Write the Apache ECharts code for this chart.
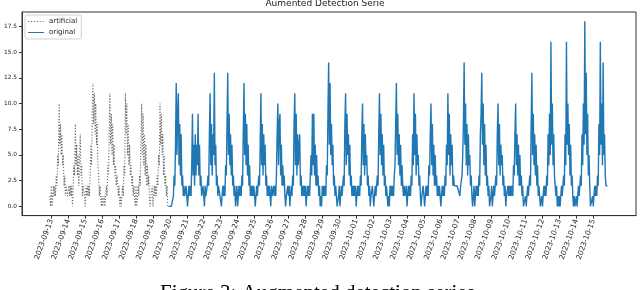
<!DOCTYPE html>
<html>
<head>
<meta charset="utf-8">
<script src="https://cdn.jsdelivr.net/npm/echarts@6/dist/echarts.min.js"></script>
<style>
html,body{margin:0;padding:0;background:#fff;}
#chart{width:640px;height:290px;}
</style>
</head>
<body>
<div id="chart"></div>
<script>
// ---- data (hourly counts per local day; series start times below) ----
const artificialStart = '2023-09-12T22:00:00Z';
const originalStart = '2023-09-19T22:00:00Z';

const art_0913 = [1,0,2,0,1,2,1,2,1,3,2,5,4,10,6,8,5,7,4,5,2,3,1,2];
const art_0914 = [2,1,1,2,1,2,1,2,0,2,4,3,8,4,6,3,5,2,5,7,3,4,1,2];
const art_0915 = [2,1,0,2,1,2,1,2,1,3,6,4,9,12,8,11,7,10,6,8,4,3,1,2];
const art_0916 = [1,0,1,0,0,1,0,1,2,1,4,3,7,11,6,9,5,8,4,6,3,4,2,3];
const art_0917 = [2,1,2,0,1,0,1,2,1,4,3,11,7,10,5,8,4,6,3,4,2,3,1,2];
const art_0918 = [1,0,2,0,1,2,1,3,2,6,10,5,9,4,7,3,6,2,4,2,3,1,0,1];
const art_0919 = [1,2,0,1,2,1,2,1,3,2,5,4,10,6,9,5,7,3,5,2,3,1,2,0];

const org_0920 = [0,0,0,0,0,0,0,1,3,2,6,12,5,9,11,4,8,3,7,2,3,1,2,1];
const org_0921 = [1,2,1,0,1,2,1,2,1,4,9,3,6,2,7,3,6,4,9,3,6,2,3,1];
const org_0922 = [1,2,1,0,2,1,1,2,3,2,7,11,4,8,3,7,5,13,4,6,2,3,1,2];
const org_0923 = [2,1,1,0,1,2,1,2,1,4,3,8,13,5,9,4,7,3,6,2,3,1,2,0];
const org_0924 = [1,2,0,1,2,1,2,1,3,2,7,12,5,9,4,8,3,6,2,4,1,2,1,2];
const org_0925 = [1,2,1,0,1,2,1,2,3,2,6,11,4,8,3,7,4,6,2,3,1,2,1,2];
const org_0926 = [1,0,2,1,1,2,1,2,1,3,7,10,4,8,9,3,6,2,4,2,3,1,0,1];
const org_0927 = [1,2,1,2,0,1,2,1,3,2,8,11,4,9,3,7,4,6,7,2,3,1,2,1];
const org_0928 = [2,1,2,0,1,2,1,2,1,3,5,3,9,4,9,3,6,2,5,2,3,1,2,0];
const org_0929 = [1,0,2,1,2,1,2,1,4,3,9,14,6,12,5,8,4,6,2,3,1,2,1,0];
const org_0930 = [0,1,2,0,1,2,1,2,3,2,8,11,4,9,5,7,3,6,2,3,1,2,1,2];
const org_1001 = [1,2,0,1,2,1,2,1,3,2,7,10,4,8,3,7,4,5,2,3,1,2,0,1];
const org_1002 = [1,2,1,0,1,2,1,2,3,2,7,11,5,9,4,7,3,6,2,3,1,2,1,0];
const org_1003 = [1,0,2,1,2,1,2,1,3,4,8,12,5,9,4,7,3,6,2,4,2,1,2,1];
const org_1004 = [1,2,0,1,2,1,2,1,3,2,7,4,11,5,9,3,7,4,5,2,3,1,0,1];
const org_1005 = [1,2,1,0,1,2,1,2,1,4,3,7,10,4,8,3,6,2,5,2,3,1,2,1];
const org_1006 = [2,1,0,1,2,1,2,1,3,2,6,4,11,5,9,3,7,4,6,2,3,2,2,2];
const org_1007 = [2,2,2,2,2,1,2,2,3,5,8,14,6,10,4,8,3,7,4,5,2,3,1,0];
const org_1008 = [1,2,0,1,2,1,2,1,3,2,7,9,13,6,10,4,8,3,6,2,3,1,2,0];
const org_1009 = [0,1,2,0,1,2,1,2,3,2,7,10,4,8,3,6,4,5,2,3,1,2,0,1];
const org_1010 = [1,2,1,2,1,2,1,2,1,4,3,7,10,4,7,3,6,2,5,2,3,1,2,0];
const org_1011 = [0,0,1,0,1,2,1,2,3,2,8,13,5,9,4,7,3,6,2,4,1,2,1,0];
const org_1012 = [0,1,0,1,2,1,2,1,3,2,7,4,9,5,16,6,10,4,7,3,2,1,2,0];
const org_1013 = [1,0,1,0,1,2,1,2,3,2,7,4,16,6,10,5,8,3,6,2,3,1,0,1];
const org_1014 = [0,0,1,0,1,2,1,2,3,2,7,4,10,6,18,7,13,5,9,3,5,2,0,0];
const org_1015 = [0,1,0,1,2,1,2,1,3,2,8,5,16,6,10,4,14,5,7,3,2,2,2,2];

const xTickLabels = ['2023-09-13','2023-09-14','2023-09-15','2023-09-16','2023-09-17','2023-09-18','2023-09-19','2023-09-20','2023-09-21','2023-09-22','2023-09-23','2023-09-24','2023-09-25','2023-09-26','2023-09-27','2023-09-28','2023-09-29','2023-09-30','2023-10-01','2023-10-02','2023-10-03','2023-10-04','2023-10-05','2023-10-06','2023-10-07','2023-10-08','2023-10-09','2023-10-10','2023-10-11','2023-10-12','2023-10-13','2023-10-14','2023-10-15'];
const yTicks = [0, 2.5, 5, 7.5, 10, 12.5, 15, 17.5];

const seriesNames = ['artificial', 'original'];
const titleText = 'Aumented Detection Serie';
const captionText = 'Figure 3: Augmented detection series';

// ---- build ----
const HOUR = 3600000;
const artificialValues = [].concat(art_0913, art_0914, art_0915, art_0916, art_0917, art_0918, art_0919);
const originalValues = [].concat(org_0920, org_0921, org_0922, org_0923, org_0924, org_0925, org_0926, org_0927, org_0928, org_0929, org_0930, org_1001, org_1002, org_1003, org_1004, org_1005, org_1006, org_1007, org_1008, org_1009, org_1010, org_1011, org_1012, org_1013, org_1014, org_1015);

function toPairs(startIso, vals) {
  const t0 = Date.parse(startIso);
  return vals.map((v, i) => [t0 + i * HOUR, v]);
}
const artificialData = toPairs(artificialStart, artificialValues);
const originalData = toPairs(originalStart, originalValues);

const tMin = artificialData[0][0];
const tMax = originalData[originalData.length - 1][0];
const span = tMax - tMin;
const xMin = tMin - 0.05 * span;
const xMax = tMax + 0.05 * span;

const xTickValues = xTickLabels.map(s => Date.parse(s + 'T00:00:00Z'));
const labelByValue = {};
xTickValues.forEach((v, i) => { labelByValue[v] = xTickLabels[i]; });

const allVals = artificialValues.concat(originalValues);
const vMin = Math.min.apply(null, allVals), vMaxD = Math.max.apply(null, allVals);
const yPad = 0.05 * (vMaxD - vMin);

const GRAY = '#666666';
const BLUE = '#1f77b4';
// legend icons: tiny invisible corner specks keep a 16x7 box, the stroke sits in the middle
const BOX = 'M0,0h.01v.01h-.01zM15.99,6.99h.01v.01h-.01z';
const ICON_SOLID = 'path://' + BOX + 'M0,2.9h16v1.2h-16z';
const ICON_DOTTED = 'path://' + BOX + 'M0,2.9h1.1v1.2h-1.1zM2.9,2.9h1.1v1.2h-1.1zM5.8,2.9h1.1v1.2h-1.1zM8.7,2.9h1.1v1.2h-1.1zM11.6,2.9h1.1v1.2h-1.1zM14.5,2.9h1.1v1.2h-1.1z';

const FONT = 'DejaVu Sans';
const chart = echarts.init(document.getElementById('chart'), null, {renderer: 'canvas'});
chart.setOption({
  animation: false,
  backgroundColor: '#fff',
  title: {
    text: titleText,
    left: 325, top: -1,
    textAlign: 'center',
    padding: 0,
    textStyle: {fontFamily: FONT, fontSize: 9, fontWeight: 'normal', color: '#222'}
  },
  legend: {
    data: [{name: seriesNames[0], icon: ICON_DOTTED}, {name: seriesNames[1], icon: ICON_SOLID}],
    orient: 'vertical',
    left: 25, top: 15,
    itemWidth: 16, itemHeight: 7, itemGap: 4,
    padding: [3, 4, 3, 3],
    backgroundColor: '#fff',
    borderColor: '#d0d0d0', borderWidth: 1, borderRadius: 2,
    textStyle: {fontFamily: FONT, fontSize: 7, color: '#222'}
  },
  grid: {
    left: 22, right: 4, top: 12, bottom: 74.4,
    show: true, borderColor: '#333', borderWidth: 1,
    containLabel: false
  },
  xAxis: {
    type: 'value',
    min: xMin, max: xMax,
    splitLine: {show: false},
    axisLine: {show: true, onZero: false, lineStyle: {color: '#333', width: 1}},
    axisTick: {show: true, length: 3, lineStyle: {color: '#333'}, customValues: xTickValues},
    axisLabel: {
      customValues: xTickValues,
      rotate: 70,
      margin: 4,
      fontFamily: FONT, fontSize: 7.3, color: '#222',
      formatter: v => labelByValue[v] || ''
    }
  },
  yAxis: {
    type: 'value',
    min: vMin - yPad, max: vMaxD + yPad,
    splitLine: {show: false},
    axisLine: {show: true, onZero: false, lineStyle: {color: '#333', width: 1}},
    axisTick: {show: true, length: 3, lineStyle: {color: '#333'}, customValues: yTicks},
    axisLabel: {
      customValues: yTicks,
      margin: 5,
      fontFamily: FONT, fontSize: 5.8, color: '#222',
      formatter: v => Number(v).toFixed(1)
    }
  },
  series: [
    {
      name: seriesNames[0], type: 'line', data: artificialData,
      symbol: 'none', showSymbol: false, silent: true,
      lineStyle: {color: GRAY, width: 1.1, type: [1.1, 1.8]},
      itemStyle: {color: GRAY}
    },
    {
      name: seriesNames[1], type: 'line', data: originalData,
      symbol: 'none', showSymbol: false, silent: true,
      lineStyle: {color: BLUE, width: 1.4},
      itemStyle: {color: BLUE}
    }
  ],
  graphic: [{
    type: 'text',
    left: 160, top: 283,
    style: {text: captionText, fontFamily: 'Liberation Serif', fontSize: 21, fill: '#000'}
  }]
});
</script>
</body>
</html>
